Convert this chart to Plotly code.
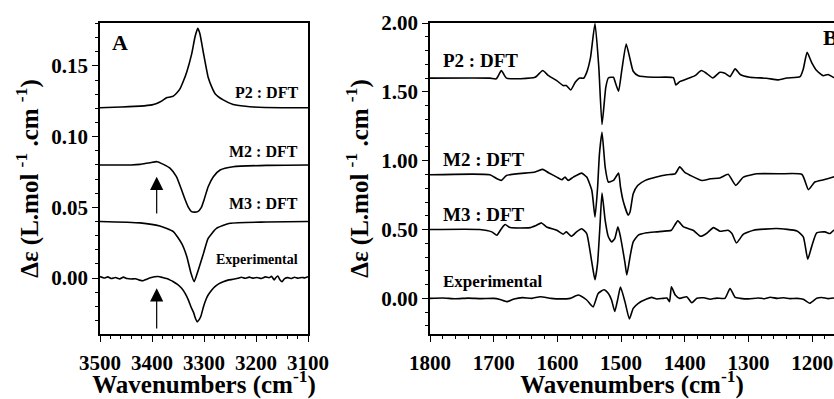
import plotly.graph_objects as go

# ---------------- Panel A data (3500-3100 cm-1) ----------------
a_p2_wn = [3500, 3460, 3423, 3400, 3391, 3380, 3372, 3365, 3359, 3352, 3346, 3340, 3333, 3324,
           3317, 3312, 3308, 3301, 3292, 3285, 3279, 3263, 3244, 3220, 3205, 3150, 3100]
a_p2_val = [0.1205, 0.121, 0.1216, 0.1225, 0.1235, 0.1255, 0.1275, 0.128, 0.1287, 0.131, 0.134,
            0.139, 0.146, 0.158, 0.171, 0.1766, 0.173, 0.159, 0.142, 0.135, 0.1306, 0.126, 0.1228,
            0.1215, 0.121, 0.1205, 0.1205]

a_m2_wn = [3500, 3440, 3423, 3404, 3390, 3378, 3365, 3353, 3343, 3336, 3330, 3324, 3318, 3312,
           3305, 3300, 3292, 3282, 3269, 3244, 3180, 3100]
a_m2_val = [0.080, 0.080, 0.0804, 0.0816, 0.0823, 0.0804, 0.0776, 0.0717, 0.0622, 0.0552, 0.050,
            0.047, 0.0466, 0.047, 0.050, 0.0552, 0.0646, 0.0717, 0.0764, 0.0787, 0.0797, 0.080]

a_m3_wn = [3500, 3423, 3385, 3359, 3343, 3333, 3325, 3319, 3313, 3301, 3292, 3276, 3250, 3180, 3100]
a_m3_val = [0.040, 0.039, 0.0368, 0.0328, 0.0245, 0.0151, 0.0033, -0.0026, 0.0033, 0.0174, 0.028,
            0.0351, 0.0387, 0.0396, 0.040]

a_exp_wn = [3500, 3492, 3485, 3478, 3470, 3462, 3455, 3448, 3440, 3432,
            3424, 3417, 3410, 3403, 3395, 3388, 3380, 3372, 3365, 3359,
            3351, 3343, 3336, 3330, 3325, 3320, 3316, 3313, 3310, 3306,
            3301, 3296, 3292, 3285, 3279, 3271, 3263, 3254, 3244, 3235,
            3228, 3221, 3213, 3205, 3198, 3190, 3182, 3175, 3170, 3165,
            3162, 3158, 3154, 3150, 3145, 3139, 3133, 3126, 3119, 3112,
            3106, 3100]
a_exp_val = [0.001, 0.0, 0.0008, -0.0003, 0.0004, -0.0006, 0.0006, -0.0004, -0.0007, -0.0005,
             -0.0015, -0.0019, -0.0008, 0.0002, 0.0009, 0.0011, 0.0004, -0.0004, -0.0015, -0.0026,
             -0.0045, -0.0073, -0.011, -0.0156, -0.0205, -0.0245, -0.029, -0.031, -0.0298, -0.027,
             -0.0203, -0.015, -0.012, -0.0085, -0.0061, -0.004, -0.0026, -0.0015, -0.0009, -0.0002,
             0.0005, -0.0002, 0.0006, -0.0001, 0.0004, -0.0003, 0.0008, 0.0002, 0.0012, -0.0014,
             0.0002, 0.0014, -0.0012, -0.0026, -0.0004, 0.0003, -0.0003, 0.0005, -0.0002, 0.0004,
             0.0001, 0.001]

# arrows in panel A: (wavenumber, tail value, tip value)
a_arrow_wn = [3391, 3391]
a_arrow_tail = [0.0446, -0.0368]
a_arrow_tip = [0.0716, -0.0073]

# ---------------- Panel B data (1800-1160 cm-1) ----------------
b_p2_wn = [1800, 1706, 1696, 1688, 1680, 1635, 1623, 1614, 1601, 1591,
           1586, 1579, 1572, 1565, 1559, 1554, 1548, 1541, 1535, 1530,
           1524, 1520, 1512, 1510, 1504, 1499, 1492, 1486, 1481, 1473,
           1449, 1418, 1414, 1408, 1397, 1384, 1374, 1366, 1356, 1345,
           1337, 1329, 1321, 1313, 1298, 1272, 1253, 1240, 1219, 1214,
           1208, 1201, 1193, 1183, 1175, 1167, 1160]
b_p2_val = [1.600, 1.600, 1.595, 1.655, 1.600, 1.606, 1.655, 1.618, 1.582, 1.546,
            1.546, 1.514, 1.570, 1.601, 1.599, 1.642, 1.751, 1.997, 1.679, 1.263,
            1.534, 1.601, 1.606, 1.582, 1.505, 1.655, 1.848, 1.739, 1.650, 1.618,
            1.606, 1.603, 1.550, 1.575, 1.594, 1.618, 1.655, 1.635, 1.601, 1.642,
            1.635, 1.611, 1.667, 1.626, 1.606, 1.599, 1.587, 1.601, 1.611, 1.667,
            1.787, 1.715, 1.655, 1.618, 1.626, 1.606, 1.600]

b_m2_wn = [1800, 1706, 1695, 1688, 1680, 1635, 1623, 1614, 1601, 1593,
           1588, 1583, 1575, 1562, 1554, 1546, 1541, 1537, 1534, 1530,
           1525, 1520, 1512, 1504, 1501, 1497, 1489, 1486, 1481, 1474,
           1462, 1446, 1428, 1415, 1408, 1400, 1392, 1373, 1360, 1345,
           1332, 1320, 1308, 1287, 1250, 1216, 1206, 1196, 1182, 1167,
           1160]
b_m2_val = [0.898, 0.898, 0.869, 0.857, 0.893, 0.918, 0.937, 0.913, 0.881, 0.862,
            0.881, 0.857, 0.881, 0.910, 0.881, 0.785, 0.590, 0.800, 1.050, 1.207,
            0.953, 0.845, 0.857, 0.910, 0.809, 0.712, 0.605, 0.628, 0.760, 0.820,
            0.857, 0.880, 0.898, 0.905, 0.955, 0.915, 0.895, 0.856, 0.869, 0.874,
            0.901, 0.821, 0.881, 0.905, 0.905, 0.900, 0.790, 0.845, 0.862, 0.881,
            0.890]

b_m3_wn = [1800, 1722, 1703, 1695, 1688, 1682, 1674, 1643, 1633, 1625,
           1617, 1601, 1591, 1586, 1578, 1570, 1562, 1554, 1549, 1544,
           1541, 1537, 1533, 1530, 1525, 1520, 1515, 1510, 1505, 1501,
           1494, 1491, 1486, 1481, 1473, 1460, 1444, 1428, 1421, 1411,
           1402, 1387, 1375, 1366, 1355, 1345, 1332, 1326, 1319, 1308,
           1292, 1256, 1224, 1214, 1207, 1201, 1193, 1180, 1172, 1166,
           1160]
b_m3_val = [0.500, 0.500, 0.483, 0.459, 0.506, 0.536, 0.514, 0.514, 0.531, 0.548,
            0.519, 0.495, 0.466, 0.483, 0.451, 0.483, 0.506, 0.471, 0.350, 0.205,
            0.135, 0.253, 0.543, 0.765, 0.567, 0.447, 0.410, 0.434, 0.519, 0.447,
            0.260, 0.170, 0.302, 0.410, 0.459, 0.476, 0.483, 0.490, 0.495, 0.563,
            0.519, 0.495, 0.451, 0.471, 0.514, 0.488, 0.495, 0.471, 0.403, 0.466,
            0.495, 0.507, 0.490, 0.447, 0.285, 0.374, 0.476, 0.483, 0.471, 0.495,
            0.490]

b_exp_wn = [1800, 1780, 1760, 1740, 1720, 1700, 1690, 1679, 1668, 1655,
            1640, 1627, 1610, 1595, 1580, 1567, 1554, 1544, 1536, 1527,
            1520, 1515, 1510, 1505, 1501, 1494, 1487, 1481, 1473, 1460,
            1452, 1444, 1434, 1428, 1424, 1421, 1415, 1408, 1397, 1389,
            1381, 1370, 1360, 1350, 1337, 1329, 1321, 1313, 1300, 1285,
            1275, 1266, 1255, 1245, 1235, 1224, 1214, 1204, 1193, 1185,
            1175, 1166, 1160]
b_exp_val = [0.0, 0.003, -0.003, 0.002, -0.002, 0.0, -0.008, -0.024, -0.005, 0.005,
             0.0, 0.012, 0.0, -0.004, 0.0, 0.024, -0.012, -0.062, 0.036, 0.062,
             0.035, -0.012, -0.095, 0.0, 0.082, -0.024, -0.150, -0.073, -0.036, -0.005,
             0.007, -0.005, 0.0, 0.002, -0.024, 0.084, 0.024, 0.0, 0.012, -0.032,
             0.0, 0.004, -0.006, 0.002, 0.0, 0.072, 0.007, 0.0, -0.004, 0.003,
             -0.003, 0.008, 0.0, 0.004, -0.002, 0.0, -0.007, -0.036, 0.0, 0.006,
             -0.002, 0.003, 0.0]

a_xticks = [3500, 3400, 3300, 3200, 3100]
a_yticks = [0.00, 0.05, 0.10, 0.15]
b_xticks = [1800, 1700, 1600, 1500, 1400, 1300, 1200]
b_yticks = [0.00, 0.50, 1.00, 1.50, 2.00]

FONT = "Liberation Serif"
LINE = dict(color="black", width=1.6, shape="spline", smoothing=0.5)

fig = go.Figure()
for wn, val in [(a_p2_wn, a_p2_val), (a_m2_wn, a_m2_val), (a_m3_wn, a_m3_val), (a_exp_wn, a_exp_val)]:
    fig.add_trace(go.Scatter(x=wn, y=val, mode="lines", line=LINE, xaxis="x", yaxis="y",
                             showlegend=False, hoverinfo="skip"))
for wn, val in [(b_p2_wn, b_p2_val), (b_m2_wn, b_m2_val), (b_m3_wn, b_m3_val), (b_exp_wn, b_exp_val)]:
    fig.add_trace(go.Scatter(x=wn, y=val, mode="lines", line=LINE, xaxis="x2", yaxis="y2",
                             showlegend=False, hoverinfo="skip"))

tickfont = dict(family=FONT, size=21, color="black", weight="bold")
titlefont = dict(family=FONT, size=25, color="black", weight="bold")
ytitle = "Δε (L.mol <sup>-1</sup> .cm <sup>-1</sup>)"
xtitle = "Wavenumbers (cm<sup>-1</sup>)"

common_axis = dict(showline=True, linecolor="black", linewidth=1.5, ticks="outside",
                   ticklen=6, tickwidth=1.2, tickcolor="black", showgrid=False,
                   zeroline=False, tickfont=tickfont, automargin=False)

ydom = [(399 - 334) / 399, (399 - 23) / 399]

fig.update_layout(
    width=834, height=399,
    margin=dict(l=0, r=0, t=0, b=0),
    paper_bgcolor="white", plot_bgcolor="white",
    xaxis=dict(domain=[100 / 834, 308 / 834], range=[3500, 3100], tickvals=a_xticks,
               mirror=True, anchor="y",
               minor=dict(dtick=20, tick0=3500, ticks="outside", ticklen=3.5, tickcolor="black", tickwidth=1),
               title=dict(text=xtitle, font=titlefont, standoff=6), ticklabelstandoff=3, **common_axis),
    yaxis=dict(domain=ydom, range=[-0.0396, 0.1804], tickvals=a_yticks, tickformat=".2f",
               mirror=True, anchor="x",
               minor=dict(dtick=0.01, tick0=0, ticks="outside", ticklen=3.5, tickcolor="black", tickwidth=1),
               title=dict(text=ytitle, font=titlefont, standoff=6), **common_axis),
    xaxis2=dict(domain=[430 / 834, 1.0], range=[1800, 1165.8], tickvals=b_xticks,
                mirror=True, anchor="y2",
                minor=dict(dtick=20, tick0=1800, ticks="outside", ticklen=3.5, tickcolor="black", tickwidth=1),
                title=dict(text=xtitle, font=titlefont, standoff=6), ticklabelstandoff=3, **common_axis),
    yaxis2=dict(domain=ydom, range=[-0.259, 2.0005], tickvals=b_yticks, tickformat=".2f",
                mirror=False, anchor="x2",
                minor=dict(dtick=0.1, tick0=0, ticks="outside", ticklen=3.5, tickcolor="black", tickwidth=1),
                title=dict(text=ytitle, font=titlefont, standoff=6), **common_axis),
)

def label(text, x, y, xref, yref, size, xanchor="left"):
    fig.add_annotation(text=text, x=x, y=y, xref=xref, yref=yref, showarrow=False,
                       xanchor=xanchor, yanchor="middle",
                       font=dict(family=FONT, size=size, color="black", weight="bold"))

# panel A labels (positions in axis data units)
label("A", 3480, 0.1665, "x", "y", 22)
label("P2 : DFT", 3115, 0.1315, "x", "y", 16, "right")
label("M2 : DFT", 3115, 0.0898, "x", "y", 16, "right")
label("M3 : DFT", 3115, 0.0524, "x", "y", 16, "right")
label("Experimental", 3115, 0.0133, "x", "y", 14, "right")
# panel B labels
label("B", 1186, 1.898, "x2", "y2", 22)
label("P2 : DFT", 1783, 1.725, "x2", "y2", 19)
label("M2 : DFT", 1783, 1.008, "x2", "y2", 19)
label("M3 : DFT", 1783, 0.608, "x2", "y2", 19)
label("Experimental", 1783, 0.120, "x2", "y2", 17)

for wn, tail, tip in zip(a_arrow_wn, a_arrow_tail, a_arrow_tip):
    fig.add_annotation(x=wn, y=tip, ax=wn, ay=tail, xref="x", yref="y", axref="x", ayref="y",
                       text="", showarrow=True, arrowhead=2, arrowsize=2.2, arrowwidth=1.2,
                       arrowcolor="black")

fig.write_html("out.html", config={"displayModeBar": False},
               post_script="document.body.style.margin='0';document.body.style.overflow='hidden';")
